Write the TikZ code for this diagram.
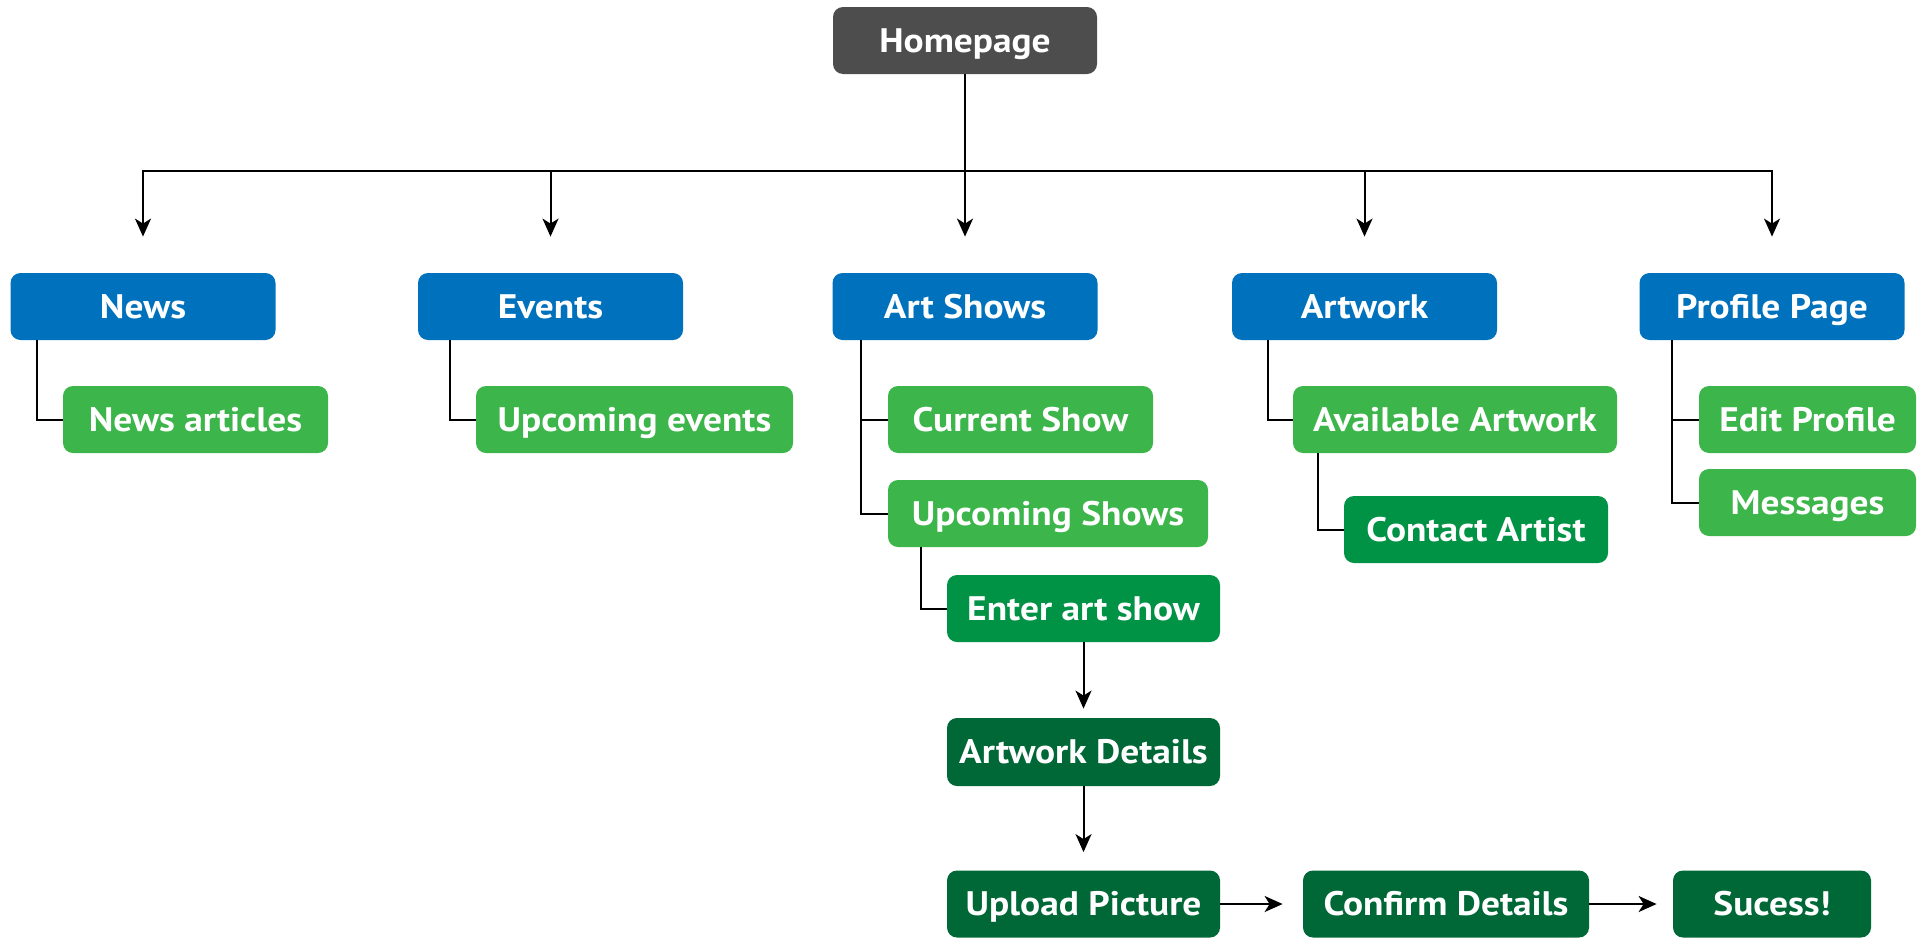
\documentclass[tikz,border=0pt]{standalone}
\usepackage{fontspec}
\setmainfont{PT Sans}[FakeStretch=1.1]
\usetikzlibrary{arrows.meta}
\definecolor{cgray}{HTML}{4D4D4D}
\definecolor{cblue}{HTML}{0071BC}
\definecolor{clight}{HTML}{3CB54A}
\definecolor{cmid}{HTML}{009245}
\definecolor{cdark}{HTML}{006837}
\begin{document}
\begin{tikzpicture}[x=0.5pt,y=-0.5pt,
  box/.style={rectangle, rounded corners=5pt, inner sep=0pt, minimum height=33.5pt,
    text height=11.9pt, text depth=0pt,
    text=white, font=\fontsize{17}{19}\selectfont\bfseries, align=center},
  bluebox/.style={box, fill=cblue, minimum width=132.5pt},
  lightbox/.style={box, fill=clight},
  midbox/.style={box, fill=cmid},
  darkbox/.style={box, fill=cdark},
  link/.style={draw=black, line width=1pt},
  arrow/.style={link, -{Stealth[length=9pt,width=8pt,inset=2.5pt]}}]
\useasboundingbox (0,0) rectangle (1925,937);
% nodes
\node[box, fill=cgray, minimum width=132pt] (home) at (965,40.5) {Homepage};
\node[bluebox] (news) at (143,306.5) {News};
\node[bluebox] (events) at (550.5,306.5) {Events};
\node[bluebox] (shows) at (965,306.5) {Art Shows};
\node[bluebox] (artwork) at (1364.5,306.5) {Artwork};
\node[bluebox] (profile) at (1772,306.5) {Profile Page};
\node[lightbox, minimum width=132.5pt] (newsart) at (195.5,419.5) {News articles};
\node[lightbox, minimum width=158.5pt] (upev) at (634.5,419.5) {Upcoming events};
\node[lightbox, minimum width=132.5pt] (current) at (1020.5,419.5) {Current Show};
\node[lightbox, minimum width=160pt] (upshows) at (1048,513.5) {Upcoming Shows};
\node[midbox, minimum width=136.5pt] (enter) at (1083.5,608.5) {Enter art show};
\node[darkbox, minimum width=136.5pt, minimum height=34pt] (details) at (1083.5,752) {Artwork Details};
\node[darkbox, minimum width=136.5pt] (upload) at (1083.5,904) {Upload Picture};
\node[darkbox, minimum width=143pt] (confirm) at (1446,904) {Confirm Details};
\node[darkbox, minimum width=99pt] (success) at (1772,904) {Sucess!};
\node[lightbox, minimum width=162pt] (avail) at (1455,419.5) {Available Artwork};
\node[midbox, minimum width=132pt] (contact) at (1476,529.5) {Contact Artist};
\node[lightbox, minimum width=108.5pt] (edit) at (1807.5,419.5) {Edit Profile};
\node[lightbox, minimum width=108.5pt] (msg) at (1807.5,502.5) {Messages};
% top bus
\coordinate (bus) at (965,171);
\draw[link] (home.south) -- (bus);
\foreach \n in {news,events,shows,artwork,profile}
  \draw[arrow] (bus) -| ([yshift=18pt]\n.north);
% elbows
\draw[link] ([xshift=13.5pt]news.south west) |- (newsart.west);
\draw[link] ([xshift=16pt]events.south west) |- (upev.west);
\draw[link] ([xshift=14.5pt]shows.south west) |- (current.west);
\draw[link] ([xshift=14.5pt]shows.south west) |- (upshows.west);
\draw[link] ([xshift=16.5pt]upshows.south west) |- (enter.west);
\draw[link] ([xshift=18pt]artwork.south west) |- (avail.west);
\draw[link] ([xshift=12.5pt]avail.south west) |- (contact.west);
\draw[link] ([xshift=16.5pt]profile.south west) |- (edit.west);
\draw[link] ([xshift=16.5pt]profile.south west) |- (msg.west);
% flow
\draw[arrow] (enter.south) -- ([yshift=4.5pt]details.north);
\draw[arrow] (details.south) -- ([yshift=9pt]upload.north);
\draw[arrow] (upload.east) -- ([xshift=-10pt]confirm.west);
\draw[arrow] (confirm.east) -- ([xshift=-8pt]success.west);
\end{tikzpicture}
\end{document}
